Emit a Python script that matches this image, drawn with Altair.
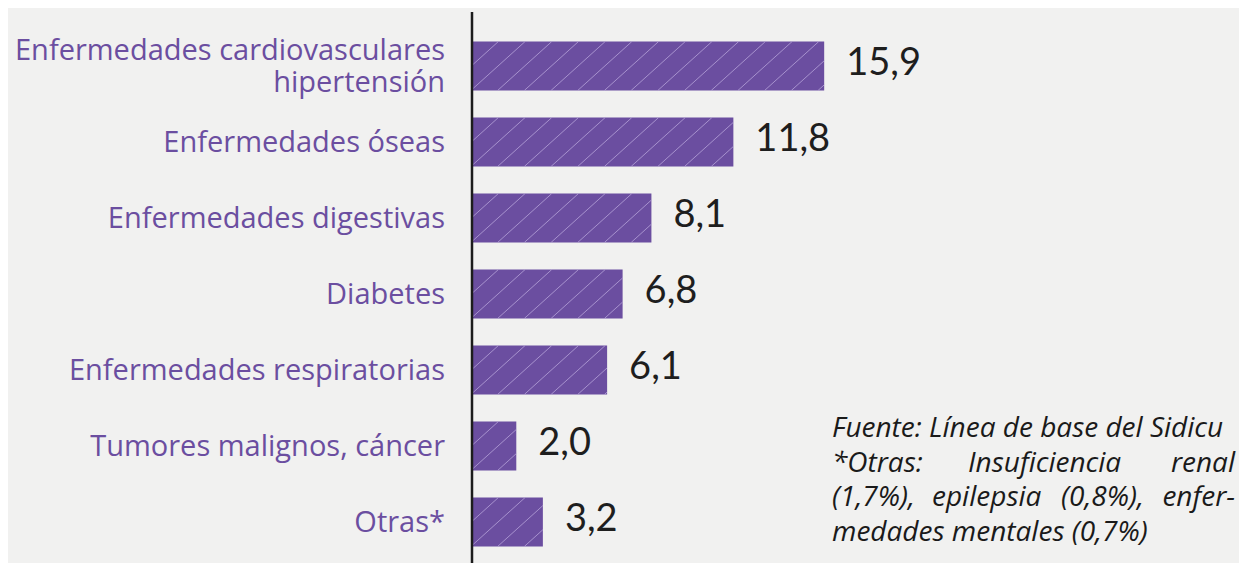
import altair as alt
import pandas as pd

categories = [
    "Enfermedades cardiovasculares\nhipertensión",
    "Enfermedades óseas",
    "Enfermedades digestivas",
    "Diabetes",
    "Enfermedades respiratorias",
    "Tumores malignos, cáncer",
    "Otras*",
]
values = [15.9, 11.8, 8.1, 6.8, 6.1, 2.0, 3.2]
value_labels = ["15,9", "11,8", "8,1", "6,8", "6,1", "2,0", "3,2"]

note_line1 = "Fuente: Línea de base del Sidicu"
note_line2 = ["*Otras:", "Insuficiencia", "renal"]
note_line3 = ["(1,7%),", "epilepsia", "(0,8%),", "enfer-"]
note_line4 = "medades mentales (0,7%)"

# ---- layout constants (pixels) ----
W, H = 1231, 560
PX_X = 22.15          # pixels per unit of value
PX_Y = 76.0           # pixels per category step
X0_PX = 464           # plot x of value 0
Y0_PX = 58            # plot y of first bar center
HALF = 24.4 / PX_Y    # half bar height in y units
LINE_H = 32.5

xdom = [-X0_PX / PX_X, (W - X0_PX) / PX_X]
ydom = [-Y0_PX / PX_Y, (H - Y0_PX) / PX_Y]

bars = pd.DataFrame({
    "cat": categories,
    "val": values,
    "lab": value_labels,
    "idx": list(range(len(values))),
})
bars["zero"] = 0.0
bars["y0"] = bars["idx"] - HALF
bars["y1"] = bars["idx"] + HALF
nlines = bars["cat"].str.count("\n")
bars["ty"] = bars["idx"] - nlines * (LINE_H / 2) / PX_Y

# hatch segments (decoration), clipped to each bar
segs = []
RUN = 54.0
SP = 26.7
for i, v in enumerate(values):
    L = v * PX_X
    k = 0
    while True:
        t = 26.3 + SP * k
        b = t - RUN
        k += 1
        if b >= L:
            break
        xs_, xe_ = max(b, 0.0), min(t, L)
        if xe_ <= xs_:
            continue
        fs, fe = (xs_ - b) / RUN, (xe_ - b) / RUN
        segs.append({
            "x": xs_ / PX_X, "x2": xe_ / PX_X,
            "y": i + HALF - fs * 2 * HALF, "y2": i + HALF - fe * 2 * HALF,
        })
hatch = pd.DataFrame(segs)

xs = alt.Scale(domain=xdom, nice=False, zero=False)
ys = alt.Scale(domain=ydom, nice=False, zero=False, reverse=True)

purple = "#6b4ea0"

rect = alt.Chart(bars).mark_rect(color=purple).encode(
    x=alt.X("zero:Q", scale=xs, axis=None),
    x2="val:Q",
    y=alt.Y("y0:Q", scale=ys, axis=None),
    y2="y1:Q",
)

hatch_layer = alt.Chart(hatch).mark_rule(color="#b9a7dc", strokeWidth=0.9, opacity=0.85).encode(
    x=alt.X("x:Q", scale=xs, axis=None),
    x2="x2:Q",
    y=alt.Y("y:Q", scale=ys, axis=None),
    y2="y2:Q",
)

axis_line = alt.Chart(bars).mark_rule(color="#1c1c1c", strokeWidth=2.5).encode(
    x=alt.X("zero:Q", scale=xs, axis=None),
    y=alt.value(4),
    y2=alt.value(H),
).transform_filter("datum.idx == 0")

cat_text = alt.Chart(bars).mark_text(
    align="right", baseline="middle", dx=-27, dy=1, font="Open Sans",
    fontSize=29, color=purple, lineBreak="\n", lineHeight=LINE_H,
).encode(
    x=alt.X("zero:Q", scale=xs, axis=None),
    y=alt.Y("ty:Q", scale=ys, axis=None),
    text="cat:N",
)

val_text = alt.Chart(bars).mark_text(
    align="left", baseline="middle", dx=22, dy=-2, font="Lato", fontWeight=400,
    fontSize=38, color="#1e1e1e",
).encode(
    x=alt.X("val:Q", scale=xs, axis=None),
    y=alt.Y("idx:Q", scale=ys, axis=None),
    text="lab:N",
)

note_style = dict(font="Open Sans", fontStyle="italic", fontSize=28,
                  color="#1a1a1a", baseline="alphabetic")
notes = []
def note(text, x, y, align="left"):
    return alt.Chart(bars).mark_text(align=align, **note_style).encode(
        x=alt.value(x), y=alt.value(y), text=alt.value(text)
    ).transform_filter("datum.idx == 0")

notes.append(note(note_line1, 824, 429))
notes.append(note(note_line2[0], 824, 463.5))
notes.append(note(note_line2[1], 960, 463.5))
notes.append(note(note_line2[2], 1227, 463.5, "right"))
notes.append(note(note_line3[0], 824, 498))
notes.append(note(note_line3[1], 924, 498))
notes.append(note(note_line3[2], 1053, 498))
notes.append(note(note_line3[3], 1227, 498, "right"))
notes.append(note(note_line4, 824, 532.5))

chart = alt.layer(rect, hatch_layer, axis_line, cat_text, val_text, *notes).properties(
    width=W, height=H, padding=0,
    autosize=alt.AutoSizeParams(type="none"),
    background="#f1f1f0",
).configure_view(stroke=None)

chart.save("out.html", embed_options={"renderer": "svg", "actions": False})
